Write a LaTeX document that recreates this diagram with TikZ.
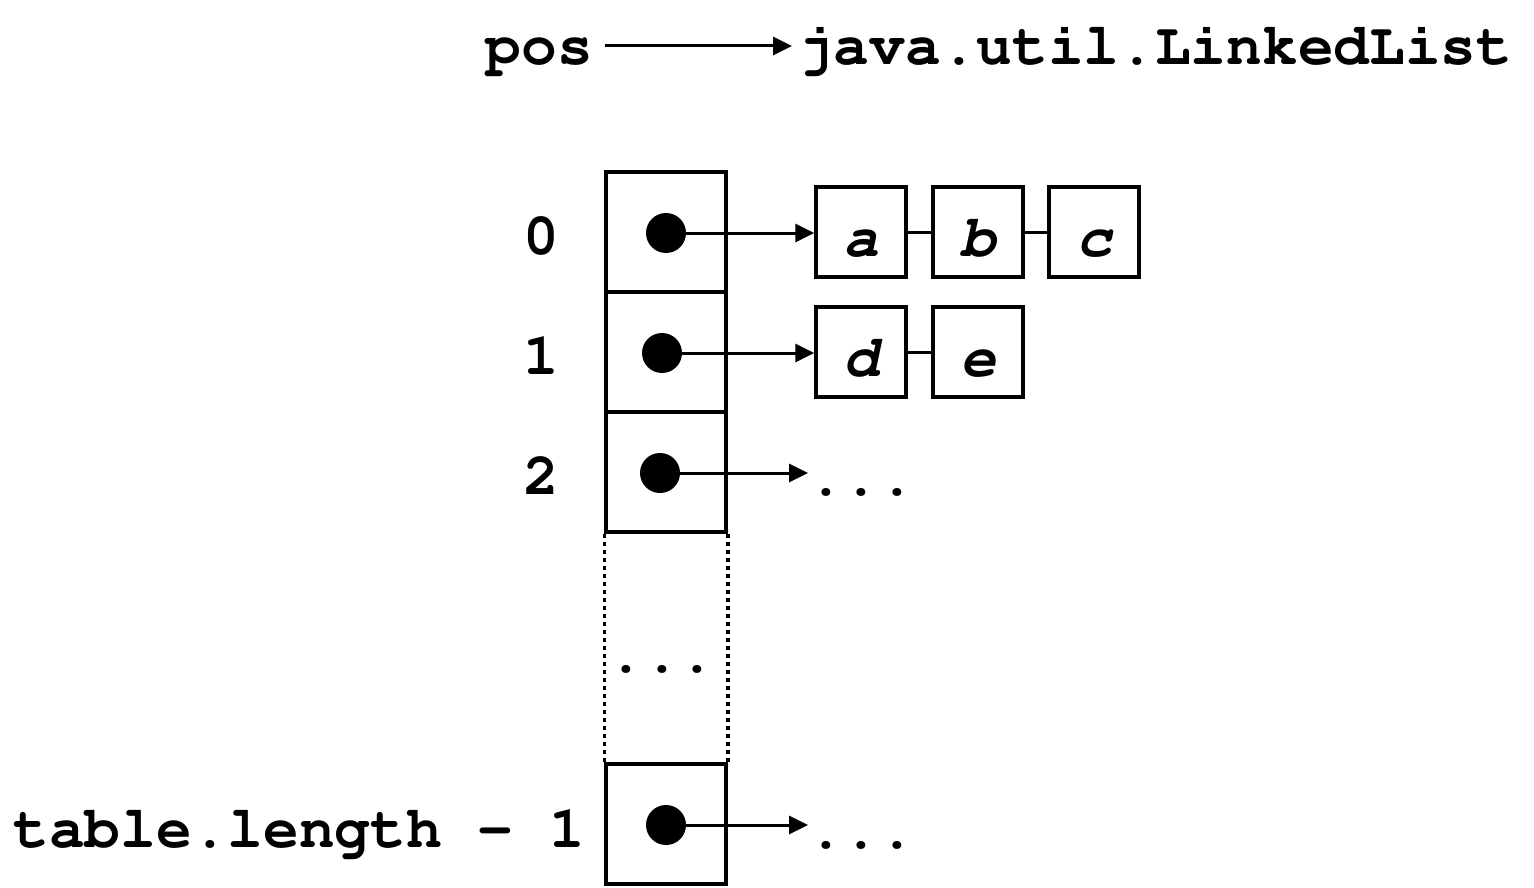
\documentclass[tikz,border=0pt]{standalone}
\usepackage[T1]{fontenc}
\usepackage{courier}
\usetikzlibrary{arrows.meta}
\newcommand\codefont{\ttfamily}
\tikzset{
    cell/.style={draw, line width=3.5pt, minimum size=120pt, inner sep=0pt},
    elem/.style={draw, line width=3.5pt, minimum size=90pt, inner sep=0pt,
        font=\codefont\bfseries\itshape, text height=48pt, text depth=0pt},
    dot/.style={circle, fill, minimum size=40pt, inner sep=0pt},
    code/.style={font=\codefont\bfseries, inner sep=0pt},
    ptr/.style={line width=3pt, -{Triangle[length=19pt,width=18pt]}},
    link/.style={line width=3pt},
}
\begin{document}
\fontsize{59.5pt}{60pt}\selectfont
\begin{tikzpicture}[x=1pt, y=-1pt]
    \useasboundingbox (0,0) rectangle (1534,888);
    % Referencia a la lista
    \node[code, anchor=base east] (pos) at (593,65) {pos};
    \node[code, anchor=base west] (jul) at (798,65) {java.util.LinkedList};
    \draw[ptr] ([xshift=12pt,yshift=19pt]pos.base east)
        -- ([xshift=-6pt,yshift=19pt]jul.base west);
    % Celdas de la tabla
    \foreach \i/\y/\dx in {0/232/666, 1/352/662, 2/472/660} {
        \node[cell] (cell\i) at (666,\y) {};
        \node[dot] (dot\i) at (\dx,\y+1) {};
        \node[code, anchor=base] (idx\i) at (541,\y+22) {\i};
    }
    \node[cell] (last) at (666,824) {};
    \node[dot] (dotl) at (666,825) {};
    \node[code, anchor=base east] (idxl) at (585,847) {table.length - 1};
    % Hueco punteado
    \draw[line width=3.5pt, dash pattern=on 4pt off 4pt]
        (cell2.south west) -- (last.north west);
    \draw[line width=3.5pt, dash pattern=on 4pt off 4pt]
        (cell2.south east) -- (last.north east);
    \node[code, anchor=base] (gap) at (662,672) {...};
    % Listas enlazadas
    \node[elem] (a) at (861,232) {a};
    \node[elem] (b) at (978,232) {b};
    \node[elem] (c) at (1094,232) {c};
    \node[elem] (d) at (861,352) {d};
    \node[elem] (e) at (978,352) {e};
    \draw[link] (a) -- (b);
    \draw[link] (b) -- (c);
    \draw[link] (d) -- (e);
    % Punteros
    \node[code, anchor=base west] (more2) at (808,495) {...};
    \node[code, anchor=base west] (morel) at (808,848) {...};
    \draw[ptr] (dot0.center) -- (dot0.center -| a.west);
    \draw[ptr] (dot1.center) -- (dot1.center -| d.west);
    \draw[ptr] (dot2.center) -- (dot2.center -| more2.west);
    \draw[ptr] (dotl.center) -- (dotl.center -| morel.west);
\end{tikzpicture}
\end{document}
